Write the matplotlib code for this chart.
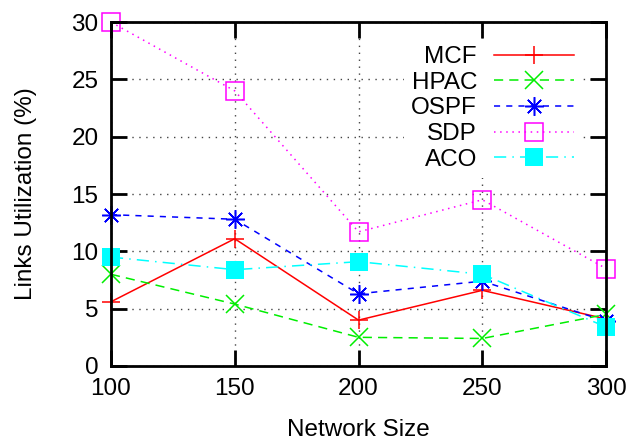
import matplotlib.pyplot as plt

# Network sizes on the x axis
sizes = [100, 150, 200, 250, 300]

# Links utilization (%) per algorithm
mcf = [5.6, 11.1, 4.0, 6.6, 4.1]
hpac = [8.0, 5.4, 2.5, 2.4, 4.5]
ospf = [13.2, 12.8, 6.3, 7.4, 3.9]
sdp = [30.0, 24.0, 11.7, 14.5, 8.5]
aco = [9.5, 8.4, 9.1, 8.0, 3.4]

plt.rcParams['font.family'] = ['Liberation Sans', 'DejaVu Sans']

fig = plt.figure(figsize=(6.34, 4.42), dpi=100)
ax = fig.add_axes([0.175, 0.172, 0.781, 0.778])

ax.plot(sizes, mcf, color='#ff0000', linestyle='-', linewidth=1.1,
        marker='+', markersize=13, markeredgewidth=1.1, label='MCF',
        clip_on=False)
ax.plot(sizes, hpac, color='#00ee00', linestyle=(0, (6, 4)), linewidth=1.1,
        marker='x', markersize=12.5, markeredgewidth=1.1, label='HPAC',
        clip_on=False)
ax.plot(sizes, ospf, color='#0000ff', linestyle=(0, (4, 4)), linewidth=1.1,
        marker=(8, 2, 0), markersize=13.5, markeredgewidth=1.1, label='OSPF',
        clip_on=False)
ax.plot(sizes, sdp, color='#ff00ff', linestyle=(0, (1, 3)), linewidth=1.1,
        marker='s', markersize=12.5, markerfacecolor='none',
        markeredgewidth=1.1, label='SDP', clip_on=False)
ax.plot(sizes, aco, color='#00ffff', linestyle=(0, (8, 4, 1, 4)), linewidth=1.1,
        marker='s', markersize=12.5, markeredgewidth=0, label='ACO',
        clip_on=False)

ax.set_xlim(100, 300)
ax.set_ylim(0, 30)
ax.set_xticks([100, 150, 200, 250, 300])
ax.set_yticks([0, 5, 10, 15, 20, 25, 30])
ax.grid(True, color='#444444', linestyle=(0, (1, 4)), linewidth=1)
ax.set_axisbelow(True)

ax.tick_params(direction='in', length=11.5, width=2, top=True, right=True,
               labelsize=17.5, pad=9)
for s in ax.spines.values():
    s.set_linewidth(2)
    s.set_zorder(6)

ax.set_xlabel('Network Size', fontsize=17.5, labelpad=13)
ax.set_ylabel('Links Utilization (%)', fontsize=17.5, labelpad=25)

leg = ax.legend(loc='upper right', bbox_to_anchor=(0.98, 0.994),
                markerfirst=False, fontsize=17.5,
                frameon=True, fancybox=False, framealpha=1,
                edgecolor='none', handlelength=3.3, handletextpad=0.7,
                labelspacing=0.15, borderpad=0.3, borderaxespad=0.6)
leg.set_zorder(5)

fig.savefig('out.png', dpi=100)
